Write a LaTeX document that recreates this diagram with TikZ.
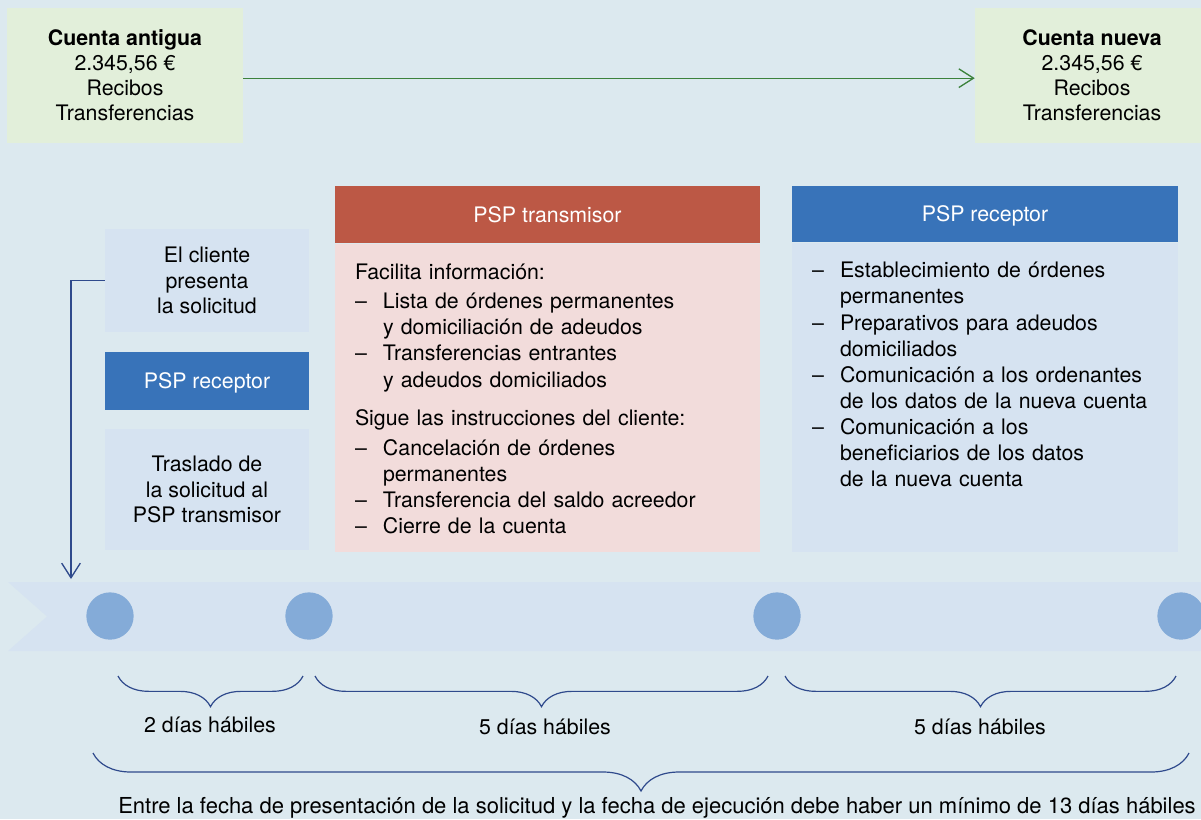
\documentclass[tikz,border=0pt]{standalone}
\usepackage{fontspec}
\setmainfont{TeX Gyre Heros}
\usetikzlibrary{arrows.meta,positioning,calc,decorations.pathreplacing}

\definecolor{bgblue}{HTML}{DCE9EF}
\definecolor{acctgreen}{HTML}{E2EFDA}
\definecolor{arrowgreen}{HTML}{3C823C}
\definecolor{psphead}{HTML}{3873B9}
\definecolor{pspbody}{HTML}{D6E3F1}
\definecolor{txhead}{HTML}{BC5845}
\definecolor{txbody}{HTML}{F2DCDB}
\definecolor{dotblue}{HTML}{84ABD8}
\definecolor{navy}{HTML}{2F4A8C}

\newcommand{\itm}[1]{\noindent\hangindent=21pt\hangafter=1\strut\makebox[21pt][l]{\textendash}#1\par}

\tikzset{
  acct/.style={fill=acctgreen,inner sep=0pt,align=center,minimum height=101.25pt,font=\fontsize{16}{18.75}\selectfont},
  lightbox/.style={fill=pspbody,inner sep=0pt,align=center,minimum width=153pt,font=\fontsize{16}{19.1}\selectfont},
  headbox/.style={fill=#1,text=white,inner sep=0pt,align=center,text height=11.5pt,text depth=0pt},
  listtext/.style={inner sep=0pt,text width=#1,anchor=north west},
  dot/.style={circle,fill=dotblue,inner sep=0pt,minimum size=35.5pt},
  brace/.style={draw=navy,line width=0.9pt,decorate,decoration={brace,mirror,amplitude=#1}},
  link/.style={line width=1pt,-{Straight Barb[length=11pt,width=14pt,line width=1pt]}},
}

\begin{document}
\begin{tikzpicture}[x=0.75pt,y=-0.75pt,font=\fontsize{16}{19.6}\selectfont]
\fill[bgblue] (0,0) rectangle (1201,819);
\useasboundingbox (0,0) rectangle (1201,819);

\node[acct,minimum width=177pt] (old) at (125,75.5) {\textbf{Cuenta antigua}\\2.345,56 €\\Recibos\\Transferencias};
\node[acct,minimum width=175.5pt] (new) at (1092,75.5) {\textbf{Cuenta nueva}\\2.345,56 €\\Recibos\\Transferencias};
\draw[link,arrowgreen] ([yshift=-2pt]old.east) -- ([yshift=-2pt]new.west);

% columna izquierda
\node[lightbox,minimum height=77.25pt] (client) at (207,280.5) {El cliente\\presenta\\la solicitud};
\node[headbox=psphead,minimum width=153pt,minimum height=43.5pt] (recv) at (207,381) {PSP receptor};
\node[lightbox,minimum height=90.75pt] (forward) at (207,489.5) {Traslado de\\la solicitud al\\PSP transmisor};

% PSP transmisor
\node[headbox=txhead,minimum width=318.75pt,minimum height=42.75pt] (txtitle) at (547.5,214.5) {PSP transmisor};
\node[fill=txbody,inner sep=0pt,minimum width=318.75pt,minimum height=231pt,below=0pt of txtitle] (txbox) {};
\node[listtext=300pt] (txlist) at ([xshift=15pt,yshift=-13.5pt]txbox.north west) {%
\noindent\strut Facilita información:\par\vspace{2pt}
\itm{Lista de órdenes permanentes\newline y domiciliación de adeudos}
\itm{Transferencias entrantes\newline y adeudos domiciliados}
\vspace{9pt}\noindent\strut Sigue las instrucciones del cliente:\par\vspace{3pt}
\itm{Cancelación de órdenes\newline permanentes}
\itm{Transferencia del saldo acreedor}
\itm{Cierre de la cuenta}};

% PSP receptor
\node[headbox=psphead,minimum width=289.5pt,minimum height=42pt] (rxtitle) at (985,214) {PSP receptor};
\node[fill=pspbody,inner sep=0pt,minimum width=289.5pt,minimum height=231.75pt,below=0pt of rxtitle] (rxbox) {};
\node[listtext=275pt] (rxlist) at ([xshift=15pt,yshift=-12.75pt]rxbox.north west) {%
\itm{Establecimiento de órdenes\newline permanentes}
\itm{Preparativos para adeudos\newline domiciliados}
\itm{Comunicación a los ordenantes\newline de los datos de la nueva cuenta}
\itm{Comunicación a los\newline beneficiarios de los datos\newline de la nueva cuenta}};

% linea de tiempo
\fill[pspbody] (8,582) -- (1205,582) -- (1205,651) -- (8,651) -- (47,616.5) -- cycle;
\foreach \cx/\nm in {110/d0,309/d1,777/d2,1181/d3}
  \node[dot] (\nm) at (\cx,616) {};
\coordinate (start) at (71,579);
\draw[link,navy] (client.west) -| (start);

% plazos
\draw[brace=23pt] (118,676) -- (303,676);
\draw[brace=23pt] (315,676) -- (768,676);
\draw[brace=23pt] (785,676) -- (1176,676);
\draw[brace=28.5pt] (93,753) -- (1189,753);
\node (span1) at (210,725) {2 días hábiles};
\node (span2) at (545,727) {5 días hábiles};
\node (span3) at (980,727) {5 días hábiles};
\node[font=\fontsize{16.5}{19.5}\selectfont] (total) at (657,808) {Entre la fecha de presentación de la solicitud y la fecha de ejecución debe haber un mínimo de 13 días hábiles};
\end{tikzpicture}
\end{document}
